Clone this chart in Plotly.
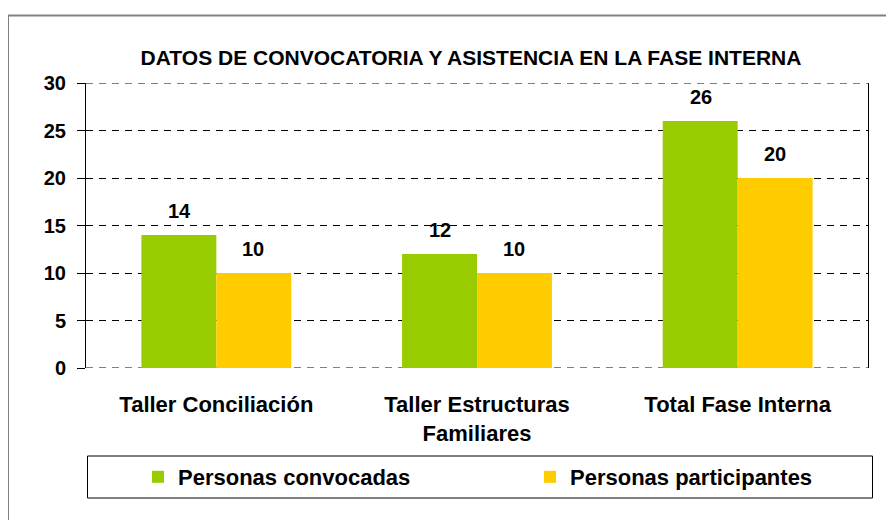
import plotly.graph_objects as go

categories = ["Taller Conciliación", "Taller Estructuras<br>Familiares", "Total Fase Interna"]
convocadas = [14, 12, 26]
participantes = [10, 10, 20]
series_names = ["Personas convocadas", "Personas participantes"]
colors = ["#99CC00", "#FFCC00"]
title_text = "DATOS DE CONVOCATORIA Y ASISTENCIA EN LA FASE INTERNA"
y_ticks = [0, 5, 10, 15, 20, 25, 30]
y_range = [0, 30]

FONT = "Liberation Sans, Arial, sans-serif"
DASH = "7px,6px"

fig = go.Figure()
for i, (name, vals, col) in enumerate(zip(series_names, [convocadas, participantes], colors)):
    fig.add_trace(go.Bar(
        x=categories, y=vals, name=name, marker=dict(color=col, line=dict(width=0)),
        legend="legend" if i == 0 else "legend2",
    ))

# data labels
annotations = []
for shift, vals in zip([-37, 37], [convocadas, participantes]):
    for c, v in zip(categories, vals):
        annotations.append(dict(
            x=c, y=v, xref="x", yref="y", text=str(v), showarrow=False,
            xshift=shift, yshift=24,
            font=dict(family=FONT, size=20, color="black", weight="bold"),
        ))

# figure occupies the page after the 8px body margin
W, H = 886, 512
L, R, T, B = 78, 26, 75, 152
pw, ph = W - L - R, H - T - B

def px_x(x):
    return (x - L) / pw

def px_y(y):
    return (H - B - y) / ph

shapes = [
    # outer chart border
    dict(type="rect", xref="paper", yref="paper",
         x0=px_x(0), x1=px_x(W + 10), y0=px_y(7.5), y1=px_y(H + 10),
         line=dict(color="#808080", width=2), fillcolor="rgba(0,0,0,0)", layer="below"),
    # legend box
    dict(type="rect", xref="paper", yref="paper",
         x0=px_x(79.5), x1=px_x(864.5), y0=px_y(448), y1=px_y(490),
         line=dict(color="black", width=1), fillcolor="rgba(0,0,0,0)"),
]
# dashed gridlines at the range ends (plotly hides gridlines at the edges)
for yv in y_range:
    shapes.append(dict(type="line", xref="paper", yref="y", x0=0, x1=1, y0=yv, y1=yv,
                       line=dict(color="black", width=1, dash=DASH), layer="below"))

legend_common = dict(orientation="h", xanchor="left", yanchor="middle",
                     xref="container", yref="container", y=1 - 469 / H,
                     font=dict(family=FONT, size=22, color="black", weight="bold"),
                     bgcolor="rgba(0,0,0,0)", borderwidth=0, itemwidth=30)

fig.update_layout(
    width=W, height=H,
    margin=dict(l=L, r=R, t=T, b=B, autoexpand=False),
    paper_bgcolor="white", plot_bgcolor="white",
    barmode="group", bargap=0.425, bargroupgap=0,
    font=dict(family=FONT, color="black"),
    title=dict(text=title_text, x=463 / W, xanchor="center",
               y=1 - 50 / H, yanchor="middle",
               font=dict(family=FONT, size=21, color="black", weight="bold")),
    annotations=annotations,
    shapes=shapes,
    showlegend=True,
    legend=dict(x=130 / W, **legend_common),
    legend2=dict(x=522 / W, **legend_common),
)
fig.update_yaxes(range=y_range, tickvals=y_ticks, showgrid=True, gridcolor="black",
                 griddash=DASH, gridwidth=1, zeroline=False,
                 showline=True, linecolor="black", linewidth=1, mirror=True,
                 ticks="outside", ticklen=8, tickcolor="black", ticklabelstandoff=7,
                 tickfont=dict(family=FONT, size=20, color="black", weight="bold"))
fig.update_xaxes(showline=False, showgrid=False, ticks="", ticklabelstandoff=21,
                 tickfont=dict(family=FONT, size=22, color="black", weight="bold"))

fig.write_html("out.html")
